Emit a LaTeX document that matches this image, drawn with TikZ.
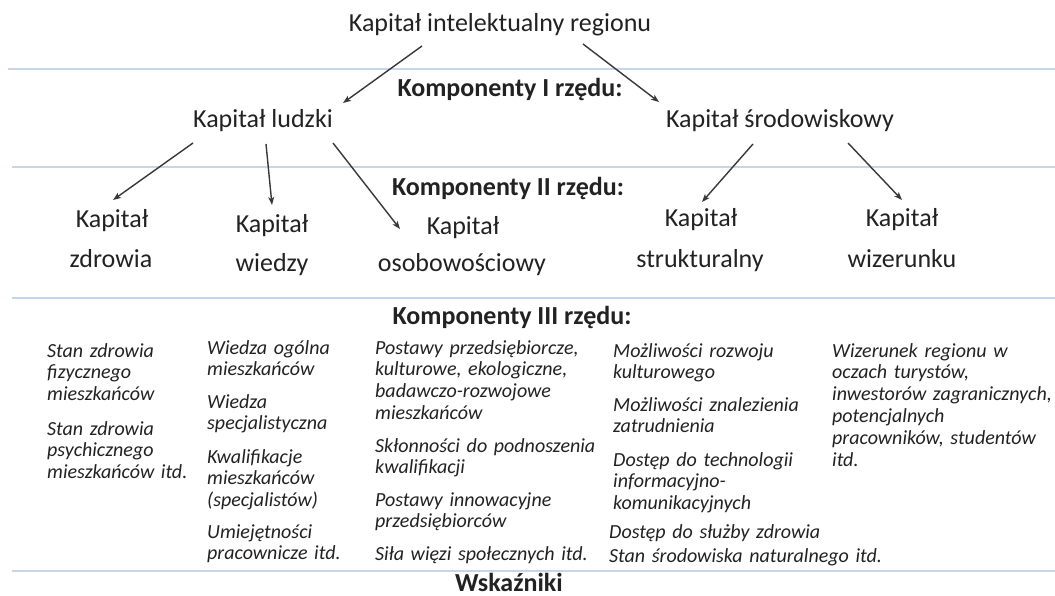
\documentclass[tikz,border=0pt]{standalone}
\usepackage{fontspec}
\setmainfont{Carlito}
\usetikzlibrary{arrows.meta}
\definecolor{txt}{HTML}{222222}
\definecolor{rule}{HTML}{C8D5E6}
\begin{document}
\begin{tikzpicture}[x=1pt,y=-1pt,
  lbl/.style={anchor=base,inner sep=0pt,text=txt,font=\fontsize{26}{30}\selectfont},
  head/.style={anchor=base,inner sep=0pt,text=txt,font=\fontsize{26}{30}\selectfont\bfseries},
  para/.style={anchor=base west,inner sep=0pt,text=txt,text width=340pt,align=left,
    font=\fontsize{20}{21.8}\selectfont\itshape},
  sep/.style={draw=rule,line width=1.3pt},
  arr/.style={draw=txt!90,line width=1.4pt,-{Stealth[length=8pt,width=6pt,inset=2pt]}}]
\useasboundingbox (0,0) rectangle (1055,596);
\fill[white] (0,0) rectangle (1055,596);
% separator lines
\coordinate (l1a) at (8,69);  \coordinate (l1b) at (1055,69);
\coordinate (l2a) at (12,167); \coordinate (l2b) at (1055,167);
\coordinate (l3a) at (12,298); \coordinate (l3b) at (1055,298);
\coordinate (l4a) at (12,571); \coordinate (l4b) at (1055,571);
\draw[sep] (l1a) -- (l1b);
\draw[sep] (l2a) -- (l2b);
\draw[sep] (l3a) -- (l3b);
\draw[sep] (l4a) -- (l4b);
% headings
\node[lbl] (title) at (500,32) {Kapitał intelektualny regionu};
\node[head] (h1) at (510,97) {Komponenty I rzędu:};
\node[head] (h2) at (508,196) {Komponenty II rzędu:};
\node[head] (h3) at (512,324) {Komponenty III rzędu:};
\node[head] (h4) at (509,591) {Wskaźniki};
% first level
\node[lbl] (ludzki) at (263,128) {Kapitał ludzki};
\node[lbl] (srod) at (780,128) {Kapitał środowiskowy};
% second level
\node[lbl] (zdr1) at (112,228) {Kapitał};
\node[lbl] (zdr2) at (111,268) {zdrowia};
\node[lbl] (wie1) at (272,233) {Kapitał};
\node[lbl] (wie2) at (272,272) {wiedzy};
\node[lbl] (oso1) at (463,235) {Kapitał};
\node[lbl] (oso2) at (462,272) {osobowościowy};
\node[lbl] (str1) at (701,227) {Kapitał};
\node[lbl] (str2) at (700,268) {strukturalny};
\node[lbl] (wiz1) at (902,227) {Kapitał};
\node[lbl] (wiz2) at (902,267) {wizerunku};
% arrows
\draw[arr] ([shift={(-78,14)}]title.base) -- ([shift={(80,-25)}]ludzki.base);
\draw[arr] ([shift={(83,12)}]title.base) -- ([shift={(-121,-26)}]srod.base);
\draw[arr] ([shift={(-70,15)}]ludzki.base) -- ([shift={(1,-28)}]zdr1.base);
\draw[arr] ([shift={(3,16)}]ludzki.base) -- ([shift={(0,-28)}]wie1.base);
\draw[arr] ([shift={(70,15)}]ludzki.base) -- ([shift={(-63,-6)}]oso1.base);
\draw[arr] ([shift={(-27,16)}]srod.base) -- ([shift={(1,-25)}]str1.base);
\draw[arr] ([shift={(68,15)}]srod.base) -- ([shift={(0,-27)}]wiz1.base);
% third level
\node[para] (c1a) at (47,357) {Stan zdrowia\\fizycznego\\mieszkańców};
\node[para] (c1b) at (47,435) {Stan zdrowia\\psychicznego\\mieszkańców itd.};
\node[para] (c2a) at (207,354) {Wiedza ogólna\\mieszkańców};
\node[para] (c2b) at (207,408) {Wiedza\\specjalistyczna};
\node[para] (c2c) at (207,463) {Kwalifikacje\\mieszkańców\\(specjalistów)};
\node[para] (c2d) at (207,538) {Umiejętności\\pracownicze itd.};
\node[para] (c3a) at (375,354) {Postawy przedsiębiorcze,\\kulturowe, ekologiczne,\\badawczo-rozwojowe\\mieszkańców};
\node[para] (c3b) at (375,452) {Skłonności do podnoszenia\\kwalifikacji};
\node[para] (c3c) at (375,506) {Postawy innowacyjne\\przedsiębiorców};
\node[para] (c3d) at (375,560) {Siła więzi społecznych itd.};
\node[para] (c4a) at (613,357) {Możliwości rozwoju\\kulturowego};
\node[para] (c4b) at (613,411) {Możliwości znalezienia\\zatrudnienia};
\node[para] (c4c) at (613,466) {Dostęp do technologii\\informacyjno-\\komunikacyjnych};
\node[para] (c4d) at (609,538) {Dostęp do służby zdrowia};
\node[para] (c4e) at (609,562) {Stan środowiska naturalnego itd.};
\node[para] (c5a) at (832,357) {Wizerunek regionu w\\oczach turystów,\\inwestorów zagranicznych,\\potencjalnych\\pracowników, studentów\\itd.};
\end{tikzpicture}
\end{document}
